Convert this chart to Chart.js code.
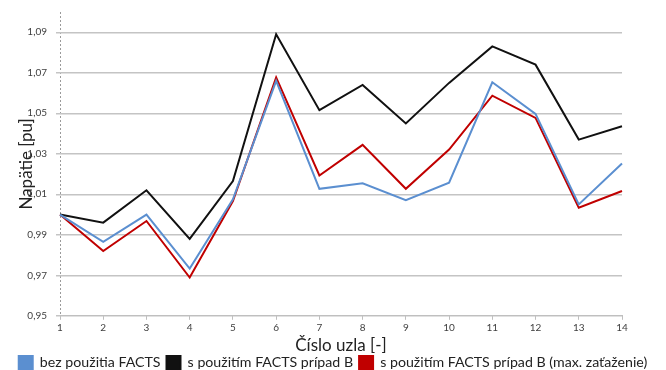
<!DOCTYPE html>
<html><head><meta charset="utf-8">
<script src="https://cdn.jsdelivr.net/npm/chart.js@4.4.0/dist/chart.umd.min.js"></script>
<style>html,body{margin:0;padding:0;background:#fff;}</style>
</head><body>
<canvas id="c" width="666" height="370"></canvas>
<script>
const nodes = ['1','2','3','4','5','6','7','8','9','10','11','12','13','14'];
const withoutFacts = [1.000,0.9865,1.000,0.9733,1.0075,1.066,1.0127,1.0154,1.0071,1.0157,1.0653,1.0497,1.005,1.0252];
const factsB = [1.000,0.996,1.012,0.988,1.0165,1.089,1.0515,1.064,1.045,1.065,1.083,1.074,1.037,1.0436];
const factsBMax = [1.000,0.982,0.9968,0.9689,1.0067,1.0677,1.0193,1.0344,1.0127,1.0321,1.0587,1.0477,1.0034,1.0116];
const yTicks = [0.95,0.97,0.99,1.01,1.03,1.05,1.07,1.09];
const seriesNames = ['bez použitia FACTS','s použitím FACTS prípad B','s použitím FACTS prípad B (max. zaťaženie)'];

const FONT = 'Lato, "Open Sans", sans-serif';
new Chart(document.getElementById('c'), {
  type: 'line',
  data: {
    labels: nodes,
    datasets: [
      {label: seriesNames[0], data: withoutFacts, borderColor:'#5b8fd0', backgroundColor:'#5b8fd0', borderWidth:2, pointRadius:0, tension:0},
      {label: seriesNames[1], data: factsB, borderColor:'#111111', backgroundColor:'#111111', borderWidth:2, pointRadius:0, tension:0},
      {label: seriesNames[2], data: factsBMax, borderColor:'#c00000', backgroundColor:'#c00000', borderWidth:2, pointRadius:0, tension:0}
    ]
  },
  options: {
    responsive:false,
    animation:false,
    layout:{padding:{top:12,right:0,left:0,bottom:-10}},
    plugins:{
      tooltip:{enabled:false},
      legend:{
        position:'bottom',
        labels:{boxWidth:14, boxHeight:14, padding:6, color:'#222', font:{family:FONT, size:14.2}}
      }
    },
    scales:{
      x:{
        type:'category',
        offset:false,
        afterFit: (scale)=>{ scale.height = 34; },
        grid:{display:true, drawOnChartArea:true, drawTicks:true, tickLength:4,
              color:(c)=> c.index===0 ? '#9a9a9a' : 'rgba(0,0,0,0)', tickColor:'#bfbfbf'},
        border:{color:'#bfbfbf', width:1, dash:[2,2]},
        ticks:{color:'#404040', font:{family:FONT, size:10}, padding:2, maxRotation:0},
        title:{display:true, text:'Číslo uzla [-]', color:'#222', font:{family:FONT, size:17}, padding:{top:0,bottom:-6}}
      },
      y:{
        min:0.95, max:1.10,
        afterBuildTicks: (axis)=>{ axis.ticks = yTicks.map(v=>({value:v})); },
        afterFit: (scale)=>{ scale.width = 60; scale.paddingTop = 0; scale.paddingBottom = 0; },
        grid:{color:'#c4c4c4', lineWidth:1.5, tickLength:4},
        border:{display:false},
        ticks:{color:'#404040', font:{family:FONT, size:10}, padding:9, callback:(v)=>Number(v).toFixed(2).replace('.',',')},
        title:{display:true, text:'Napätie [pu]', color:'#222', font:{family:FONT, size:17}, padding:{top:16,bottom:4}}
      },
      yRight:{
        position:'right',
        display:true,
        min:0, max:1,
        afterFit: (scale)=>{ scale.width = 44; scale.paddingTop = 0; scale.paddingBottom = 0; },
        grid:{display:false, drawOnChartArea:false},
        border:{display:false},
        ticks:{display:false}
      }
    }
  }
});
</script>
</body></html>
